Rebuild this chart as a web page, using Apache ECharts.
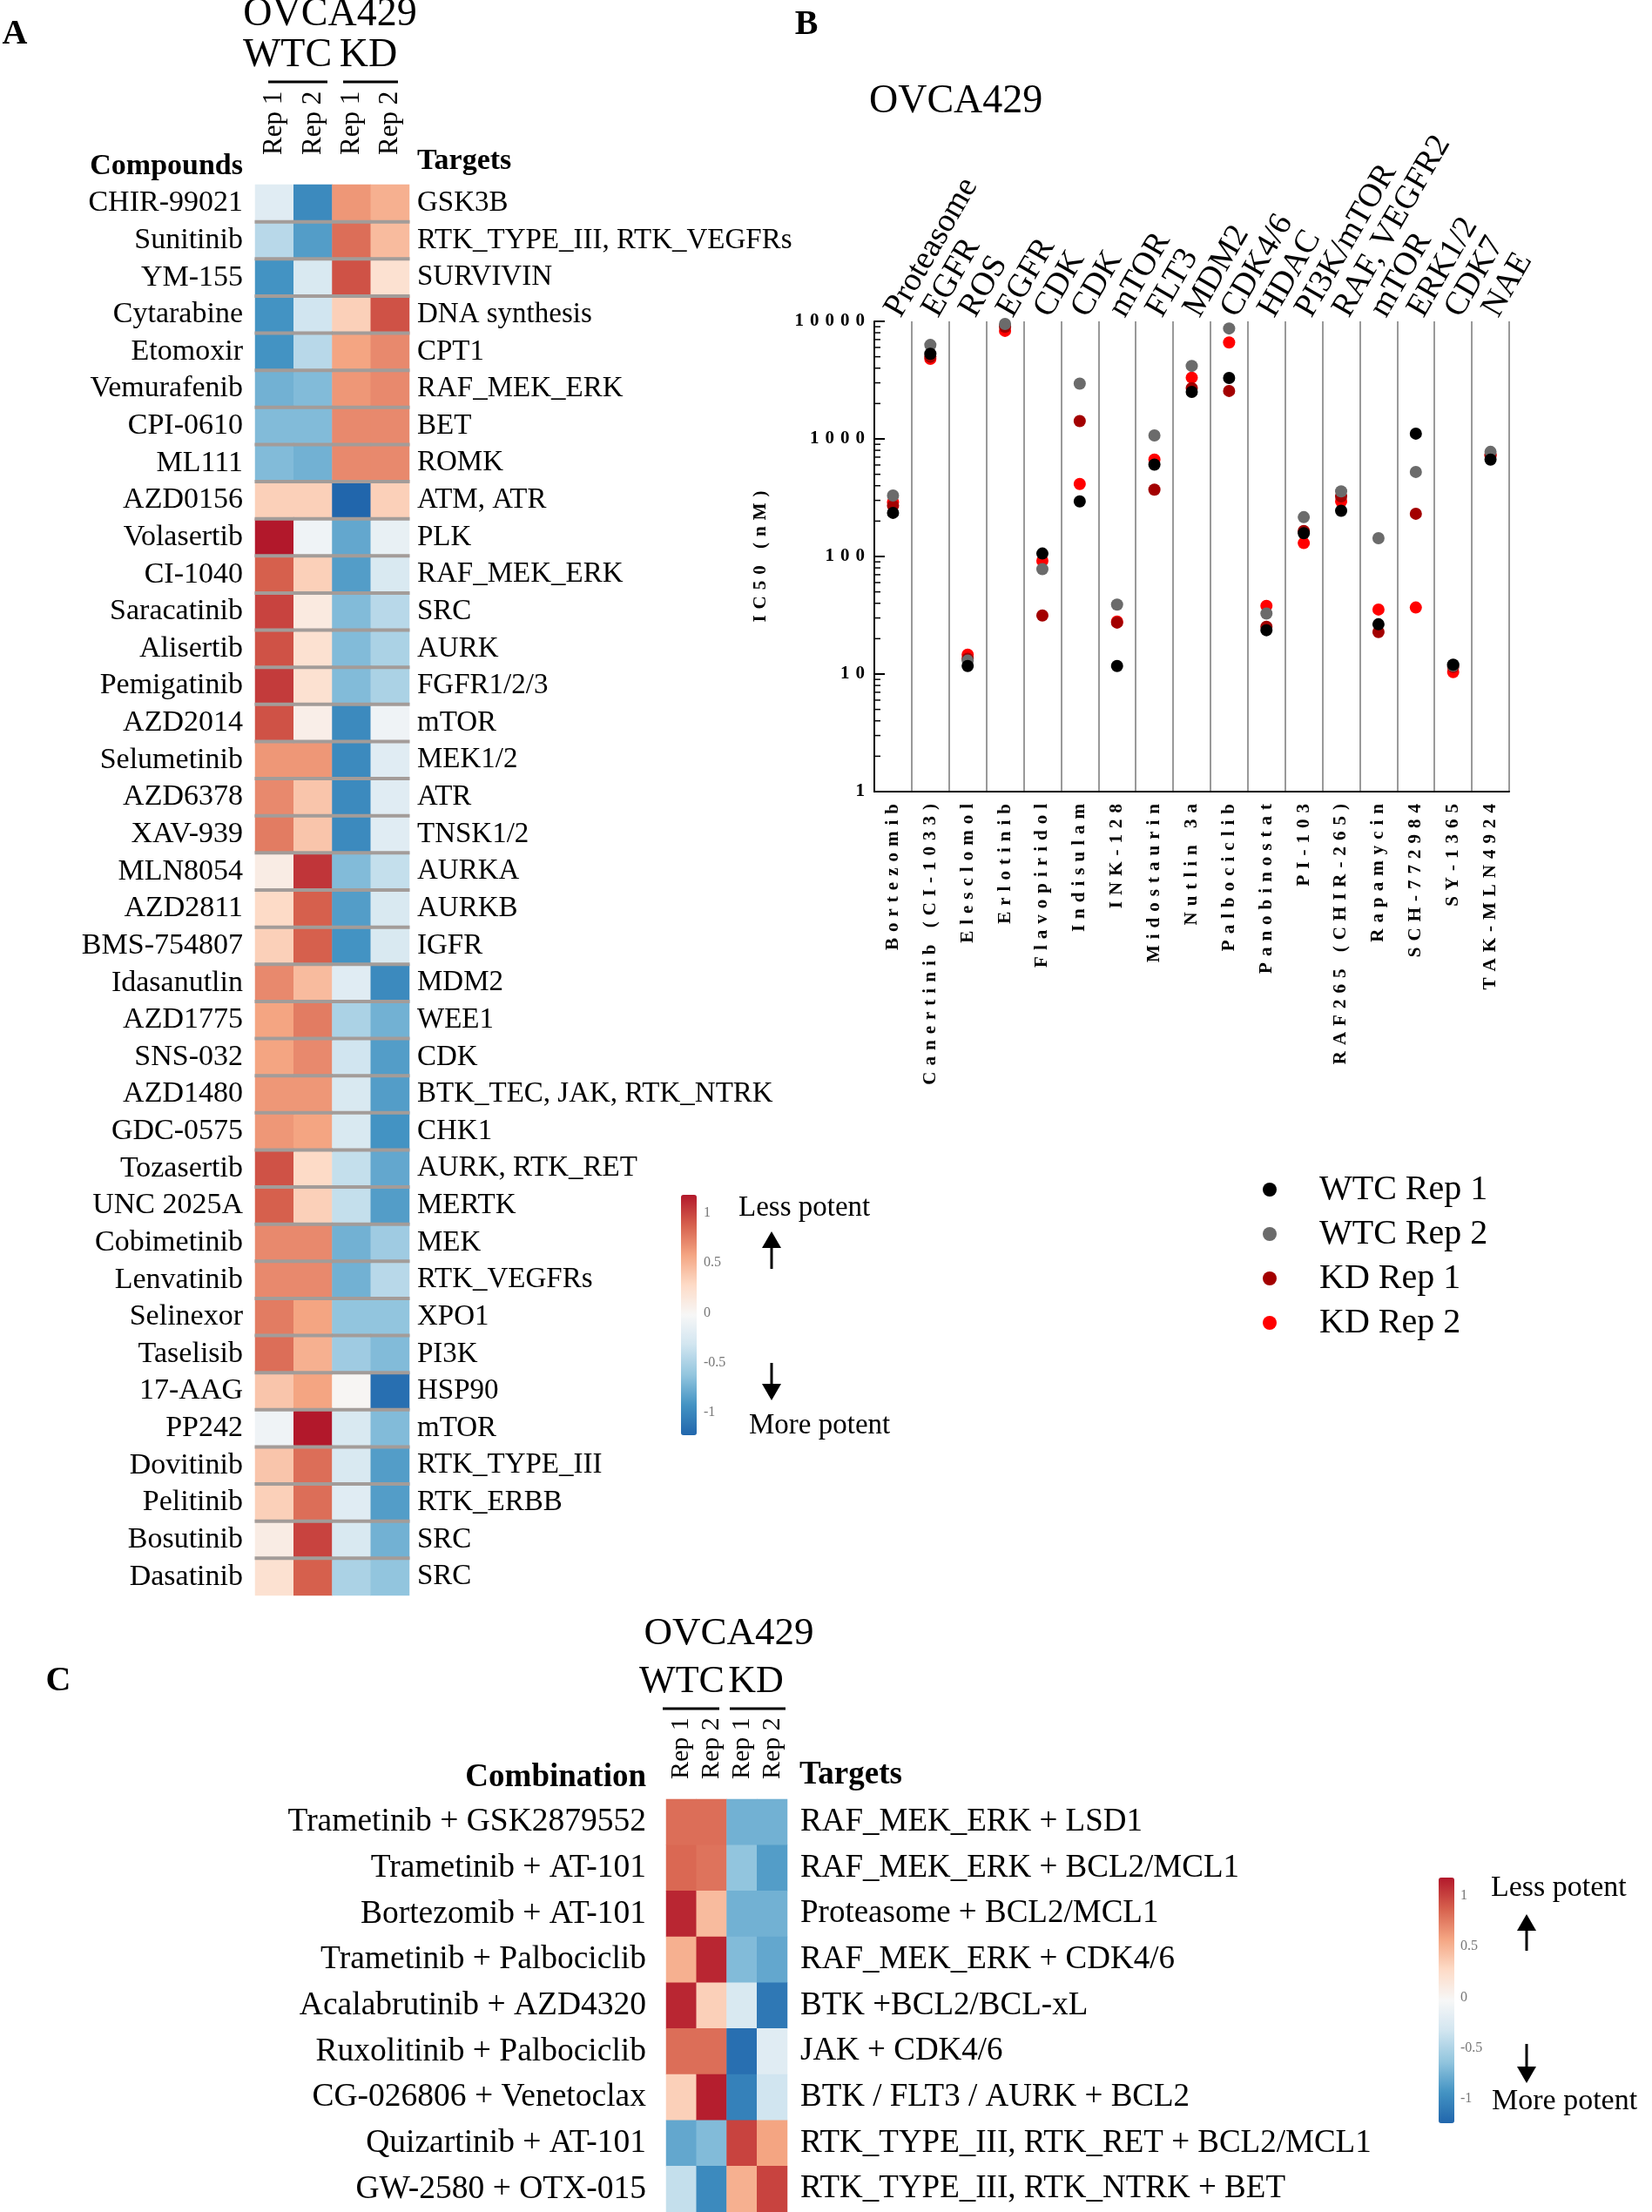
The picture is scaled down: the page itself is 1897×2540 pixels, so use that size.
<!DOCTYPE html>
<html>
<head>
<meta charset="utf-8">
<script src="https://cdn.jsdelivr.net/npm/echarts@6.0.0/dist/echarts.min.js"></script>
<style>
  html, body { margin: 0; padding: 0; background: #fff; }
  #chart { width: 1897px; height: 2540px; }
</style>
</head>
<body>
<div id="chart"></div>
<script>
// ---- panel A: single compounds heatmap ----
const repLabels = ['Rep 1', 'Rep 2', 'Rep 1', 'Rep 2'];
const compoundsA = ['CHIR-99021', 'Sunitinib', 'YM-155', 'Cytarabine', 'Etomoxir', 'Vemurafenib', 'CPI-0610', 'ML111',
  'AZD0156', 'Volasertib', 'CI-1040', 'Saracatinib', 'Alisertib', 'Pemigatinib', 'AZD2014', 'Selumetinib', 'AZD6378',
  'XAV-939', 'MLN8054', 'AZD2811', 'BMS-754807', 'Idasanutlin', 'AZD1775', 'SNS-032', 'AZD1480', 'GDC-0575',
  'Tozasertib', 'UNC 2025A', 'Cobimetinib', 'Lenvatinib', 'Selinexor', 'Taselisib', '17-AAG', 'PP242', 'Dovitinib',
  'Pelitinib', 'Bosutinib', 'Dasatinib'];
const targetsA = ['GSK3B', 'RTK_TYPE_III, RTK_VEGFRs', 'SURVIVIN', 'DNA synthesis', 'CPT1', 'RAF_MEK_ERK', 'BET', 'ROMK',
  'ATM, ATR', 'PLK', 'RAF_MEK_ERK', 'SRC', 'AURK', 'FGFR1/2/3', 'mTOR', 'MEK1/2', 'ATR', 'TNSK1/2', 'AURKA', 'AURKB',
  'IGFR', 'MDM2', 'WEE1', 'CDK', 'BTK_TEC, JAK, RTK_NTRK', 'CHK1', 'AURK, RTK_RET', 'MERTK', 'MEK', 'RTK_VEGFRs',
  'XPO1', 'PI3K', 'HSP90', 'mTOR', 'RTK_TYPE_III', 'RTK_ERBB', 'SRC', 'SRC'];
const wtcRep1A = [-0.15, -0.35, -0.75, -0.75, -0.75, -0.6, -0.55, -0.55, 0.3, 1.0, 0.75, 0.85, 0.8, 0.88, 0.8, 0.55,
  0.6, 0.65, 0.1, 0.25, 0.3, 0.6, 0.5, 0.5, 0.55, 0.55, 0.8, 0.75, 0.6, 0.6, 0.65, 0.7, 0.35, -0.05, 0.35, 0.3, 0.1, 0.2];
const wtcRep2A = [-0.8, -0.7, -0.2, -0.25, -0.35, -0.55, -0.55, -0.6, 0.3, -0.05, 0.3, 0.12, 0.2, 0.2, 0.08, 0.55,
  0.35, 0.35, 0.9, 0.75, 0.75, 0.4, 0.65, 0.6, 0.55, 0.5, 0.25, 0.3, 0.6, 0.6, 0.5, 0.45, 0.5, 1.0, 0.7, 0.7, 0.85, 0.75];
const kdRep1A = [0.55, 0.7, 0.8, 0.3, 0.5, 0.55, 0.6, 0.6, -1.0, -0.65, -0.7, -0.55, -0.55, -0.55, -0.8, -0.8,
  -0.8, -0.8, -0.55, -0.7, -0.75, -0.15, -0.4, -0.25, -0.2, -0.2, -0.3, -0.3, -0.6, -0.6, -0.5, -0.45, 0.02, -0.2,
  -0.2, -0.15, -0.2, -0.4];
const kdRep2A = [0.45, 0.4, 0.2, 0.8, 0.6, 0.6, 0.6, 0.6, 0.3, -0.1, -0.2, -0.35, -0.4, -0.4, -0.05, -0.15,
  -0.15, -0.15, -0.3, -0.2, -0.2, -0.8, -0.6, -0.7, -0.7, -0.75, -0.65, -0.7, -0.45, -0.35, -0.5, -0.55, -0.95, -0.55,
  -0.7, -0.7, -0.6, -0.5];

// ---- panel B: IC50 dot plot ----
const compoundsB = ['Bortezomib', 'Canertinib (CI-1033)', 'Elesclomol', 'Erlotinib', 'Flavopiridol', 'Indisulam',
  'INK-128', 'Midostaurin', 'Nutlin 3a', 'Palbociclib', 'Panobinostat', 'PI-103', 'RAF265 (CHIR-265)', 'Rapamycin',
  'SCH-772984', 'SY-1365', 'TAK-MLN4924'];
const targetsB = ['Proteasome', 'EGFR', 'ROS', 'EGFR', 'CDK', 'CDK', 'mTOR', 'FLT3', 'MDM2', 'CDK4/6', 'HDAC',
  'PI3K/mTOR', 'RAF, VEGFR2', 'mTOR', 'ERK1/2', 'CDK7', 'NAE'];
const wtcRep1B = [235, 5300, 11.7, 10500, 106, 294, 11.7, 605, 2510, 3300, 23.6, 158, 245, 26.5, 1110, 12, 667];
const wtcRep2B = [330, 6300, 13, 9500, 78, 2950, 39, 1070, 4180, 8700, 32.7, 216, 358, 143, 524, 11.8, 776];
const kdRep1B = [270, 5000, 13.5, 9000, 31.5, 1420, 27.4, 370, 2700, 2560, 25.2, 165, 324, 22.8, 231, 11.5, 736];
const kdRep2B = [290, 4800, 14.6, 8300, 92, 414, 28, 667, 3320, 6620, 38, 130, 294, 35.4, 36.8, 10.4, 720];
const minorTicksB = [2, 3, 4, 5, 6, 7, 8, 9, 20, 30, 40, 50, 60, 70, 80, 90, 200, 300, 400, 500, 600, 700, 800, 900,
  2000, 3000, 4000, 5000, 6000, 7000, 8000, 9000];

// ---- panel C: combinations heatmap ----
const combosC = ['Trametinib + GSK2879552', 'Trametinib + AT-101', 'Bortezomib + AT-101', 'Trametinib + Palbociclib',
  'Acalabrutinib + AZD4320', 'Ruxolitinib + Palbociclib', 'CG-026806 + Venetoclax', 'Quizartinib + AT-101',
  'GW-2580 + OTX-015'];
const targetsC = ['RAF_MEK_ERK + LSD1', 'RAF_MEK_ERK + BCL2/MCL1', 'Proteasome + BCL2/MCL1', 'RAF_MEK_ERK + CDK4/6',
  'BTK +BCL2/BCL-xL', 'JAK + CDK4/6', 'BTK / FLT3 / AURK + BCL2', 'RTK_TYPE_III, RTK_RET + BCL2/MCL1',
  'RTK_TYPE_III, RTK_NTRK + BET'];
const wtcRep1C = [0.7, 0.72, 0.95, 0.45, 0.95, 0.7, 0.3, -0.65, -0.3];
const wtcRep2C = [0.7, 0.68, 0.4, 0.95, 0.3, 0.7, 0.98, -0.55, -0.8];
const kdRep1C = [-0.6, -0.5, -0.6, -0.55, -0.2, -0.95, -0.85, 0.85, 0.45];
const kdRep2C = [-0.6, -0.7, -0.6, -0.65, -0.9, -0.15, -0.25, 0.5, 0.85];

const colorbarTicks = ['1', '0.5', '0', '-0.5', '-1'];

const serif = "'Liberation Serif', 'Times New Roman', serif";
const rdbu = ['#2166ac', '#4393c3', '#92c5de', '#d1e5f0', '#f7f7f7', '#fddbc7', '#f4a582', '#d6604d', '#b2182b'];
const spaced = s => String(s).split('').join('\u2004');

const gridA = { left: 293, top: 212, width: 177, height: 1620 };
const gridB = { left: 1004, top: 369, width: 729, height: 540 };
const gridC = { left: 765, top: 2066, width: 139, height: 482 };
const rowA = gridA.height / compoundsA.length;
const colA = gridA.width / repLabels.length;
const bandB = gridB.width / compoundsB.length;

function heatData(cols) {
  const out = [];
  cols.forEach((col, x) => col.forEach((v, y) => out.push([x, y, v])));
  return out;
}

// one separator piece per column and per row boundary
const separatorsA = [];
repLabels.forEach((r, c) => compoundsA.slice(1).forEach((n, i) => separatorsA.push([c, i + 1])));

function txt(text, x, y, size, opts) {
  opts = opts || {};
  return {
    type: 'text', x: x, y: y, silent: true,
    style: {
      text: text, fill: opts.fill || '#000',
      font: (opts.bold ? 'bold ' : '') + size + 'px ' + serif,
      align: opts.align || 'left', verticalAlign: 'middle'
    }
  };
}
function seg(x1, y1, x2, y2, color, width) {
  return { type: 'line', silent: true, shape: { x1: x1, y1: y1, x2: x2, y2: y2 },
    style: { stroke: color, lineWidth: width } };
}
function arrow(x, tail, tip) {
  const dir = tip < tail ? -1 : 1;
  return [
    seg(x, tail, x, tip - dir * 14, '#000', 3),
    { type: 'polygon', silent: true, shape: { points: [[x - 11, tip - dir * 19], [x + 11, tip - dir * 19], [x, tip]] }, style: { fill: '#000' } }
  ];
}
function colorbarLabels(x, top, step) {
  return colorbarTicks.map((t, i) => txt(t, x, top + i * step, 16, { fill: '#777' }));
}

const chart = echarts.init(document.getElementById('chart'));

const catLabel = (size, margin) => ({ interval: 0, fontFamily: serif, fontSize: size, color: '#000', margin: margin });

chart.setOption({
  animation: false,
  backgroundColor: '#fff',
  grid: [gridA, gridB, gridC],
  xAxis: [
    { type: 'category', gridIndex: 0, position: 'top', data: repLabels,
      axisLine: { show: false }, axisTick: { show: false },
      axisLabel: Object.assign(catLabel(31, 34), { rotate: -90 }) },
    { type: 'category', gridIndex: 1, position: 'bottom', data: compoundsB,
      axisLine: { show: true, lineStyle: { color: '#000', width: 2 } }, axisTick: { show: false },
      axisLabel: Object.assign(catLabel(21, 14), { rotate: 90, fontWeight: 'bold', formatter: spaced }),
      splitLine: { show: true, interval: 0, lineStyle: { color: '#999', width: 2 } } },
    { type: 'category', gridIndex: 1, position: 'top', data: targetsB,
      axisLine: { show: false }, axisTick: { show: false },
      axisLabel: Object.assign(catLabel(38, 8), { rotate: -60 }) },
    { type: 'category', gridIndex: 2, position: 'top', data: repLabels,
      axisLine: { show: false }, axisTick: { show: false },
      axisLabel: Object.assign(catLabel(30, 23), { rotate: -90 }) }
  ],
  yAxis: [
    { type: 'category', gridIndex: 0, inverse: true, data: compoundsA,
      axisLine: { show: false }, axisTick: { show: false }, axisLabel: catLabel(34, 14) },
    { type: 'category', gridIndex: 0, inverse: true, position: 'right', data: targetsA,
      axisLine: { show: false }, axisTick: { show: false }, axisLabel: catLabel(33, 9) },
    { type: 'log', gridIndex: 1, logBase: 10, min: 1, max: 10000,
      axisLine: { show: true, lineStyle: { color: '#000', width: 2 } },
      axisTick: { show: true, inside: true, length: 12, lineStyle: { color: '#000', width: 2 } },
      axisLabel: { fontFamily: serif, fontSize: 21, fontWeight: 'bold', color: '#000', margin: 11, formatter: v => spaced(v) },
      splitLine: { show: false },
      name: spaced('IC50 (nM)'), nameLocation: 'middle', nameRotate: 90, nameGap: 120,
      nameTextStyle: { fontFamily: serif, fontSize: 21, fontWeight: 'bold', color: '#000' } },
    { type: 'category', gridIndex: 2, inverse: true, data: combosC,
      axisLine: { show: false }, axisTick: { show: false }, axisLabel: catLabel(37.5, 23) },
    { type: 'category', gridIndex: 2, inverse: true, position: 'right', data: targetsC,
      axisLine: { show: false }, axisTick: { show: false }, axisLabel: catLabel(37, 15) }
  ],
  visualMap: [
    { type: 'continuous', seriesIndex: 0, min: -1, max: 1, calculable: false, orient: 'vertical',
      left: 782, top: 1372, itemWidth: 18, itemHeight: 276, padding: 0, inRange: { color: rdbu } },
    { type: 'continuous', seriesIndex: 5, min: -1, max: 1, calculable: false, orient: 'vertical',
      left: 1652, top: 2156, itemWidth: 18, itemHeight: 282, padding: 0, inRange: { color: rdbu } }
  ],
  legend: {
    data: ['WTC Rep 1', 'WTC Rep 2', 'KD Rep 1', 'KD Rep 2'],
    orient: 'vertical', left: 1450, top: 1344, padding: 0, icon: 'circle',
    itemWidth: 16, itemHeight: 16, itemGap: 7, selectedMode: false,
    textStyle: { fontFamily: serif, fontSize: 40, color: '#000', lineHeight: 44, padding: [0, 0, 0, 44] }
  },
  series: [
    { type: 'heatmap', xAxisIndex: 0, yAxisIndex: 0, progressive: 0, data: heatData([wtcRep1A, wtcRep2A, kdRep1A, kdRep2A]),
      emphasis: { disabled: true } },
    { type: 'scatter', name: 'KD Rep 2', xAxisIndex: 1, yAxisIndex: 2, data: kdRep2B, symbolSize: 14,
      itemStyle: { color: '#ff0000', opacity: 1 } },
    { type: 'scatter', name: 'KD Rep 1', xAxisIndex: 1, yAxisIndex: 2, data: kdRep1B, symbolSize: 14,
      itemStyle: { color: '#a30000', opacity: 1 } },
    { type: 'scatter', name: 'WTC Rep 2', xAxisIndex: 1, yAxisIndex: 2, data: wtcRep2B, symbolSize: 14,
      itemStyle: { color: '#6b6b6b', opacity: 1 } },
    { type: 'scatter', name: 'WTC Rep 1', xAxisIndex: 1, yAxisIndex: 2, data: wtcRep1B, symbolSize: 14,
      itemStyle: { color: '#000000', opacity: 1 } },
    { type: 'heatmap', xAxisIndex: 3, yAxisIndex: 3, progressive: 0, data: heatData([wtcRep1C, wtcRep2C, kdRep1C, kdRep2C]),
      emphasis: { disabled: true } },
    // grey separators between the rows of panel A
    { type: 'scatter', xAxisIndex: 0, yAxisIndex: 0, zlevel: 1, z: 10, silent: true, clip: false, symbol: 'rect',
      symbolSize: [colA + 1, 4], symbolOffset: [0, -rowA / 2],
      itemStyle: { color: '#a39c99', opacity: 1 },
      data: separatorsA },
    // log minor ticks on the IC50 axis
    { type: 'scatter', xAxisIndex: 1, yAxisIndex: 2, zlevel: 1, z: 10, silent: true, clip: false, symbol: 'rect',
      symbolSize: [7, 1.5], symbolOffset: [-bandB / 2 + 3.5, 0],
      itemStyle: { color: '#000', opacity: 1 },
      data: minorTicksB.map(v => [0, v]) }
  ],
  graphic: [
    // panel A
    txt('A', 17, 40, 40, { bold: true, align: 'center' }),
    txt('OVCA429', 379, 17, 46, { align: 'center' }),
    txt('WTC', 330, 64, 46, { align: 'center' }),
    txt('KD', 423, 64, 46, { align: 'center' }),
    seg(308, 94, 376, 94, '#000', 3), seg(394, 94, 457, 94, '#000', 3),
    txt('Compounds', 279, 191, 34, { bold: true, align: 'right' }),
    txt('Targets', 479, 185, 34, { bold: true }),
    ...colorbarLabels(808, 1393, 57.25),
    txt('Less potent', 848, 1387, 33),
    ...arrow(886, 1457, 1414),
    ...arrow(886, 1565, 1608),
    txt('More potent', 860, 1637, 33),
    // panel B
    txt('B', 926, 29, 40, { bold: true, align: 'center' }),
    txt('OVCA429', 998, 117, 46),
    // panel C
    txt('C', 67, 1931, 40, { bold: true, align: 'center' }),
    txt('OVCA429', 837, 1876, 45, { align: 'center' }),
    txt('WTC', 783, 1931, 44, { align: 'center' }),
    txt('KD', 868, 1931, 44, { align: 'center' }),
    seg(761, 1962, 826, 1962, '#000', 3), seg(838, 1962, 902, 1962, '#000', 3),
    txt('Combination', 742, 2041, 37, { bold: true, align: 'right' }),
    txt('Targets', 918, 2038, 37, { bold: true }),
    ...colorbarLabels(1677, 2177, 58.25),
    txt('Less potent', 1712, 2168, 34),
    ...arrow(1753, 2240, 2198),
    ...arrow(1753, 2347, 2392),
    txt('More potent', 1713, 2413, 34)
  ]
});
</script>
</body>
</html>
